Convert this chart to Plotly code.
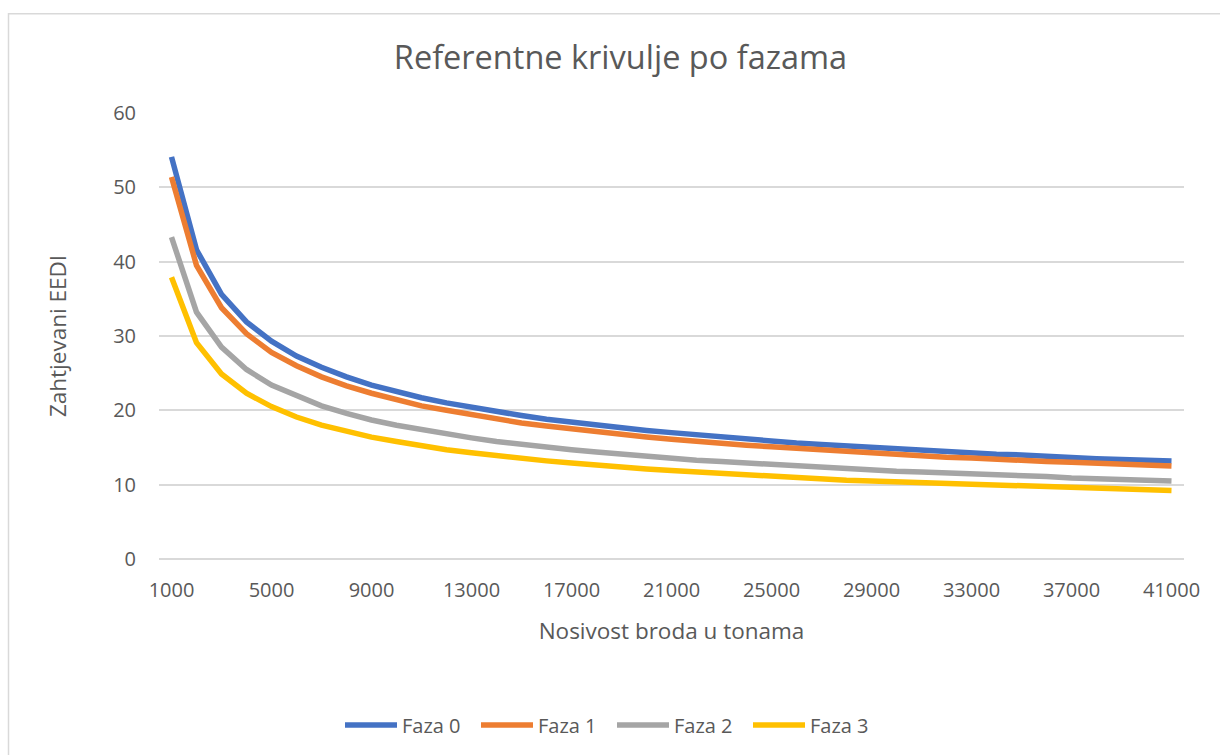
import plotly.graph_objects as go

dwt = [1000, 2000, 3000, 4000, 5000, 6000, 7000, 8000, 9000, 10000,
       11000, 12000, 13000, 14000, 15000, 16000, 17000, 18000, 19000, 20000,
       21000, 22000, 23000, 24000, 25000, 26000, 27000, 28000, 29000, 30000,
       31000, 32000, 33000, 34000, 35000, 36000, 37000, 38000, 39000, 40000,
       41000]

faza0 = [54.1, 41.6, 35.6, 31.9, 29.3, 27.3, 25.8, 24.5, 23.4, 22.5,
         21.7, 21.0, 20.4, 19.8, 19.3, 18.8, 18.4, 18.0, 17.6, 17.3,
         17.0, 16.7, 16.4, 16.1, 15.9, 15.6, 15.4, 15.2, 15.0, 14.8,
         14.6, 14.5, 14.3, 14.1, 14.0, 13.8, 13.7, 13.5, 13.4, 13.3,
         13.2]

faza1 = [51.4, 39.5, 33.8, 30.3, 27.8, 26.0, 24.5, 23.3, 22.3, 21.4,
         20.6, 20.0, 19.4, 18.8, 18.3, 17.9, 17.5, 17.1, 16.7, 16.4,
         16.1, 15.8, 15.6, 15.3, 15.1, 14.9, 14.6, 14.4, 14.3, 14.1,
         13.9, 13.7, 13.6, 13.4, 13.3, 13.1, 13.0, 12.9, 12.7, 12.6,
         12.5]

faza2 = [43.3, 33.2, 28.5, 25.5, 23.4, 21.9, 20.6, 19.6, 18.7, 18.0,
         17.4, 16.8, 16.3, 15.8, 15.4, 15.1, 14.7, 14.4, 14.1, 13.8,
         13.6, 13.3, 13.1, 12.9, 12.7, 12.5, 12.3, 12.2, 12.0, 11.8,
         11.7, 11.6, 11.4, 11.3, 11.2, 11.1, 10.9, 10.8, 10.7, 10.6,
         10.5]

faza3 = [37.9, 29.1, 24.9, 22.3, 20.5, 19.1, 18.0, 17.2, 16.4, 15.8,
         15.2, 14.7, 14.3, 13.9, 13.5, 13.2, 12.9, 12.6, 12.3, 12.1,
         11.9, 11.7, 11.5, 11.3, 11.1, 10.9, 10.8, 10.6, 10.5, 10.4,
         10.2, 10.1, 10.0, 9.9, 9.8, 9.7, 9.6, 9.5, 9.4, 9.3,
         9.2]

series_names = ["Faza 0", "Faza 1", "Faza 2", "Faza 3"]
series_values = [faza0, faza1, faza2, faza3]
colors = ["#4472C4", "#ED7D31", "#A5A5A5", "#FFC000"]

x_tick_vals = [1000, 5000, 9000, 13000, 17000, 21000, 25000, 29000, 33000, 37000, 41000]
y_tick_vals = [0, 10, 20, 30, 40, 50, 60]

FONT = "Open Sans"
TXT = "#595959"
GRID = "#D9D9D9"

fig = go.Figure()
for name, vals, col in zip(series_names, series_values, colors):
    fig.add_trace(go.Scatter(
        x=dwt, y=vals, name=name, mode="lines",
        line=dict(color=col, width=5.5),
    ))

fig.update_layout(
    width=1220, height=755,
    paper_bgcolor="white", plot_bgcolor="white",
    margin=dict(l=159, r=36, t=112.5, b=195.5),
    font=dict(family=FONT, color=TXT, size=20),
    title=dict(
        text="Referentne krivulje po fazama",
        font=dict(family=FONT, size=32.5, color=TXT),
        x=620.5 / 1220, xref="container", xanchor="center",
        y=1 - 58 / 755, yref="container", yanchor="middle",
    ),
    xaxis=dict(
        range=[500, 41500],
        tickmode="array", tickvals=x_tick_vals,
        ticktext=[str(v) for v in x_tick_vals],
        showgrid=False, zeroline=False,
        showline=False,
        ticks="outside", ticklen=13, tickcolor="rgba(0,0,0,0)",
        tickfont=dict(family=FONT, size=20, color=TXT),
        title=dict(text="Nosivost broda u tonama",
                   font=dict(family=FONT, size=22.5, color=TXT),
                   standoff=21),
    ),
    yaxis=dict(
        range=[0, 60],
        tickmode="array", tickvals=y_tick_vals,
        showgrid=True, gridcolor=GRID, gridwidth=1.5,
        zeroline=True, zerolinecolor=GRID, zerolinewidth=1.5,
        ticks="outside", ticklen=18, tickcolor="rgba(0,0,0,0)",
        tickfont=dict(family=FONT, size=20, color=TXT),
        title=dict(text="Zahtjevani EEDI",
                   font=dict(family=FONT, size=22.5, color=TXT),
                   standoff=40),
    ),
    legend=dict(
        orientation="h",
        x=340 / 1220, xref="container", xanchor="left",
        y=1 - 725 / 755, yref="container", yanchor="middle",
        font=dict(family=FONT, size=20, color=TXT),
        itemwidth=52,
        entrywidth=69, entrywidthmode="pixels",
        bgcolor="rgba(0,0,0,0)",
    ),
    shapes=[dict(
        type="rect", xref="paper", yref="paper",
        x0=(8.5 - 159) / 1025, x1=1.2,
        y0=-0.6, y1=(559.5 - 13) / 447,
        line=dict(color=GRID, width=1.5),
        fillcolor="rgba(0,0,0,0)", layer="below",
    )],
)

fig.write_html("out.html", config={"displayModeBar": False},
               post_script="document.body.style.margin='0';")
